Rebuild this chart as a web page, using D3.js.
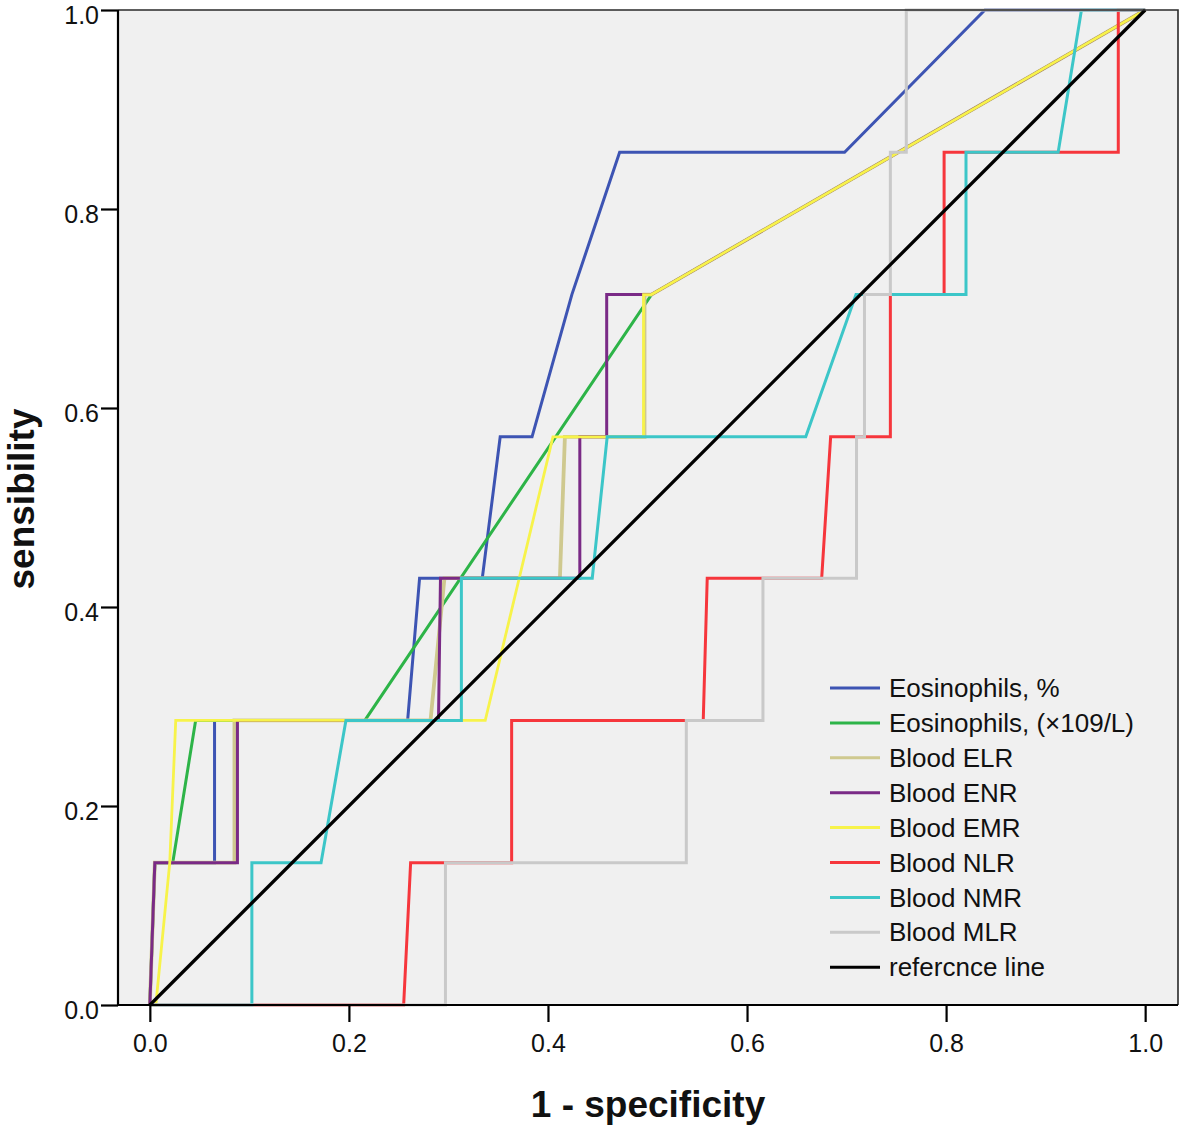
<!DOCTYPE html>
<html><head><meta charset="utf-8">
<script src="https://cdn.jsdelivr.net/npm/d3@7/dist/d3.min.js"></script>
<style>
body{margin:0;background:#fff}
text{font-family:Arial,"Liberation Sans",sans-serif;fill:#111}
</style>
</head><body>
<svg id="chart" width="1181" height="1128"></svg>
<script>
// ---------- data ----------
const xTickValues = [0, 0.2, 0.4, 0.6, 0.8, 1.0];
const yTickValues = [0, 0.2, 0.4, 0.6, 0.8, 1.0];
const xTitle = "1 - specificity";
const yTitle = "sensibility";

const seriesNames = ["Eosinophils, %", "Eosinophils, (\u00d7109/L)", "Blood ELR", "Blood ENR",
  "Blood EMR", "Blood NLR", "Blood NMR", "Blood MLR", "refercnce line"];

const eosPct = [[0,0],[0.005,0.143],[0.065,0.143],[0.065,0.286],[0.259,0.286],[0.271,0.429],
  [0.334,0.429],[0.352,0.571],[0.384,0.571],[0.424,0.714],[0.472,0.857],[0.698,0.857],[0.839,1],[1,1]];
const eosAbs = [[0,0],[0.005,0.143],[0.023,0.143],[0.046,0.286],[0.216,0.286],[0.504,0.714],[1,1]];
const bloodELR = [[0,0],[0.005,0.143],[0.085,0.143],[0.085,0.286],[0.282,0.286],[0.296,0.429],
  [0.412,0.429],[0.417,0.571],[0.497,0.571],[0.497,0.714],[0.504,0.714],[1,1]];
const bloodENR = [[0,0],[0.005,0.143],[0.088,0.143],[0.088,0.286],[0.290,0.286],[0.292,0.429],
  [0.432,0.429],[0.432,0.571],[0.459,0.571],[0.459,0.714],[0.504,0.714],[1,1]];
const bloodEMR = [[0,0],[0.006,0],[0.020,0.143],[0.026,0.286],[0.337,0.286],[0.405,0.571],
  [0.496,0.571],[0.496,0.714],[0.504,0.714],[1,1]];
const bloodNLR = [[0,0],[0.255,0],[0.262,0.143],[0.3635,0.143],[0.3635,0.286],[0.556,0.286],
  [0.560,0.429],[0.675,0.429],[0.684,0.571],[0.744,0.571],[0.744,0.714],[0.798,0.714],
  [0.798,0.857],[0.973,0.857],[0.973,1],[1,1]];
const bloodNMR = [[0,0],[0.1025,0],[0.1025,0.143],[0.172,0.143],[0.197,0.286],[0.313,0.286],
  [0.313,0.429],[0.4445,0.429],[0.4595,0.571],[0.659,0.571],[0.7095,0.714],[0.820,0.714],
  [0.820,0.857],[0.9126,0.857],[0.936,1],[1,1]];
const bloodMLR = [[0,0],[0.297,0],[0.297,0.143],[0.539,0.143],[0.539,0.286],[0.616,0.286],
  [0.616,0.429],[0.710,0.429],[0.710,0.571],[0.718,0.571],[0.718,0.714],[0.744,0.714],
  [0.744,0.857],[0.760,0.857],[0.760,1],[1,1]];
const referenceLine = [[0,0],[1,1]];

const seriesData = [eosPct, eosAbs, bloodELR, bloodENR, bloodEMR, bloodNLR, bloodNMR, bloodMLR, referenceLine];

// ---------- styles ----------
const seriesColors = ["#3d54b3", "#2db448", "#cfc98f", "#7a2a86", "#f7f34a",
  "#f6363c", "#3cc6c8", "#c9c9c9", "#000000"];
const seriesWidths = [3, 3, 3.8, 3, 2.8, 3, 3, 3, 3.3];

// ---------- layout ----------
const svg = d3.select("#chart");
const plot = {left: 118, right: 1178, top: 10, bottom: 1005};

const x = d3.scaleLinear().domain([-0.032, 1.033]).range([plot.left, plot.right]);
const y = d3.scaleLinear().domain([0, 1]).range([plot.bottom, plot.top]);

svg.append("rect")
  .attr("x", plot.left).attr("y", plot.top)
  .attr("width", plot.right - plot.left).attr("height", plot.bottom - plot.top)
  .attr("fill", "#f0f0f0");

svg.append("clipPath").attr("id", "clp").append("rect")
  .attr("x", plot.left).attr("y", plot.top - 2)
  .attr("width", plot.right - plot.left).attr("height", plot.bottom - plot.top + 4);

const line = d3.line().x(d => x(d[0])).y(d => y(d[1]));
const g = svg.append("g").attr("clip-path", "url(#clp)");
seriesData.forEach((s, i) => {
  g.append("path").datum(s)
    .attr("d", line)
    .attr("fill", "none")
    .attr("stroke", seriesColors[i])
    .attr("stroke-width", seriesWidths[i])
    .attr("stroke-linejoin", "miter");
});

// frame top/right
svg.append("path")
  .attr("d", `M${plot.left},${plot.top}H${plot.right}V${plot.bottom}`)
  .attr("fill", "none").attr("stroke", "#2a2a2a").attr("stroke-width", 1.6);

// axes
const fmt = d3.format(".1f");
const xAxis = svg.append("g").attr("transform", `translate(0,${plot.bottom})`)
  .call(d3.axisBottom(x).tickValues(xTickValues).tickFormat(fmt).tickSize(17).tickPadding(12).tickSizeOuter(0));
const yAxis = svg.append("g").attr("transform", `translate(${plot.left},0)`)
  .call(d3.axisLeft(y).tickValues(yTickValues).tickFormat(fmt).tickSize(17).tickPadding(2).tickSizeOuter(0));

[xAxis, yAxis].forEach(a => {
  a.select(".domain").attr("stroke", "#000").attr("stroke-width", 2.2);
  a.selectAll(".tick line").attr("stroke", "#000").attr("stroke-width", 2.2);
  a.selectAll(".tick text").attr("font-size", 25).attr("fill", "#222")
    .style("font-family", "Arial, 'Liberation Sans', sans-serif");
});
yAxis.selectAll(".tick text").attr("dy", "0.55em");
xAxis.select(".domain").attr("d", `M${plot.left},0H${plot.right}`);
yAxis.select(".domain").attr("d", `M0,${plot.top}V${plot.bottom}`);

// titles
svg.append("text")
  .attr("x", (plot.left + plot.right) / 2).attr("y", 1117)
  .attr("text-anchor", "middle").attr("font-size", 37).attr("font-weight", "bold")
  .text(xTitle);
svg.append("text")
  .attr("transform", `translate(34,${499}) rotate(-90)`)
  .attr("text-anchor", "middle").attr("font-size", 37).attr("font-weight", "bold")
  .text(yTitle);

// legend
const legend = svg.append("g").attr("transform", "translate(830,688)");
seriesNames.forEach((name, i) => {
  const row = legend.append("g").attr("transform", `translate(0,${i * 34.9})`);
  row.append("line").attr("x1", 0).attr("x2", 50).attr("y1", 0).attr("y2", 0)
    .attr("stroke", seriesColors[i]).attr("stroke-width", 3);
  row.append("text").attr("x", 59).attr("y", 0).attr("dy", "0.35em")
    .attr("font-size", 26).attr("fill", "#1a1a1a").text(name);
});
</script>
</body></html>
